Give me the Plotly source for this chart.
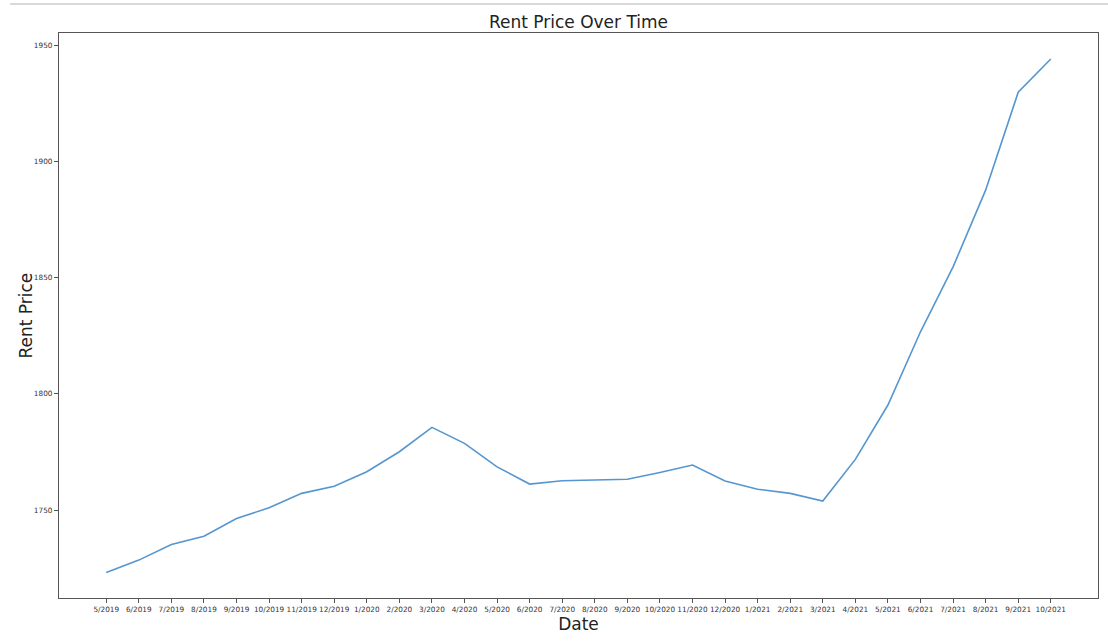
import plotly.graph_objects as go

dates = ["5/2019", "6/2019", "7/2019", "8/2019", "9/2019", "10/2019", "11/2019", "12/2019",
         "1/2020", "2/2020", "3/2020", "4/2020", "5/2020", "6/2020", "7/2020", "8/2020",
         "9/2020", "10/2020", "11/2020", "12/2020", "1/2021", "2/2021", "3/2021", "4/2021",
         "5/2021", "6/2021", "7/2021", "8/2021", "9/2021", "10/2021"]
rent_price = [1723.2, 1728.5, 1735.2, 1738.8, 1746.4, 1751.0, 1757.2, 1760.3,
              1766.5, 1775.1, 1785.6, 1778.7, 1768.6, 1761.2, 1762.6, 1762.9,
              1763.3, 1766.2, 1769.4, 1762.5, 1759.0, 1757.2, 1753.9, 1771.8,
              1795.2, 1826.7, 1854.6, 1887.6, 1929.7, 1944.0]
y_ticks = [1750, 1800, 1850, 1900, 1950]

fig = go.Figure()
fig.add_trace(go.Scatter(x=dates, y=rent_price, mode="lines",
                         line=dict(color="#5596cf", width=1.6), showlegend=False))

axis_common = dict(showgrid=False, zeroline=False, showline=True, linecolor="#555555",
                   linewidth=1.2, mirror=True, ticks="outside", ticklen=4,
                   tickcolor="#555555", tickwidth=1, tickangle=0, automargin=False,
                   tickfont=dict(family="DejaVu Sans", size=7.3, color="#333333"))

plot_h = 641 - 33 - 43
fig.update_layout(
    width=1108, height=641,
    margin=dict(l=59, r=10, t=33, b=43),
    paper_bgcolor="white", plot_bgcolor="white",
    title=dict(text="Rent Price Over Time", xref="paper", x=0.5, xanchor="center",
               y=0.966, yanchor="middle",
               font=dict(family="DejaVu Sans", size=17, color="#222222")),
    xaxis=dict(type="category", range=[-1.45, 30.45],
               title=dict(text="Date", standoff=0,
                          font=dict(family="DejaVu Sans", size=17, color="#222222")),
               **axis_common),
    yaxis=dict(range=[1712.2, 1955.2], tickvals=y_ticks, **axis_common),
    annotations=[dict(text="Rent Price", xref="paper", yref="paper",
                      x=(25 - 59) / 1039, y=0.5, xanchor="center", yanchor="middle",
                      textangle=-90, showarrow=False,
                      font=dict(family="DejaVu Sans", size=17, color="#222222"))],
    shapes=[dict(type="line", xref="paper", yref="paper",
                 x0=-0.047, x1=1.01, y0=(641 - 43 - 4) / plot_h,
                 y1=(641 - 43 - 4) / plot_h,
                 line=dict(color="#cccccc", width=1.5))],
)

fig.write_html("out.html")
